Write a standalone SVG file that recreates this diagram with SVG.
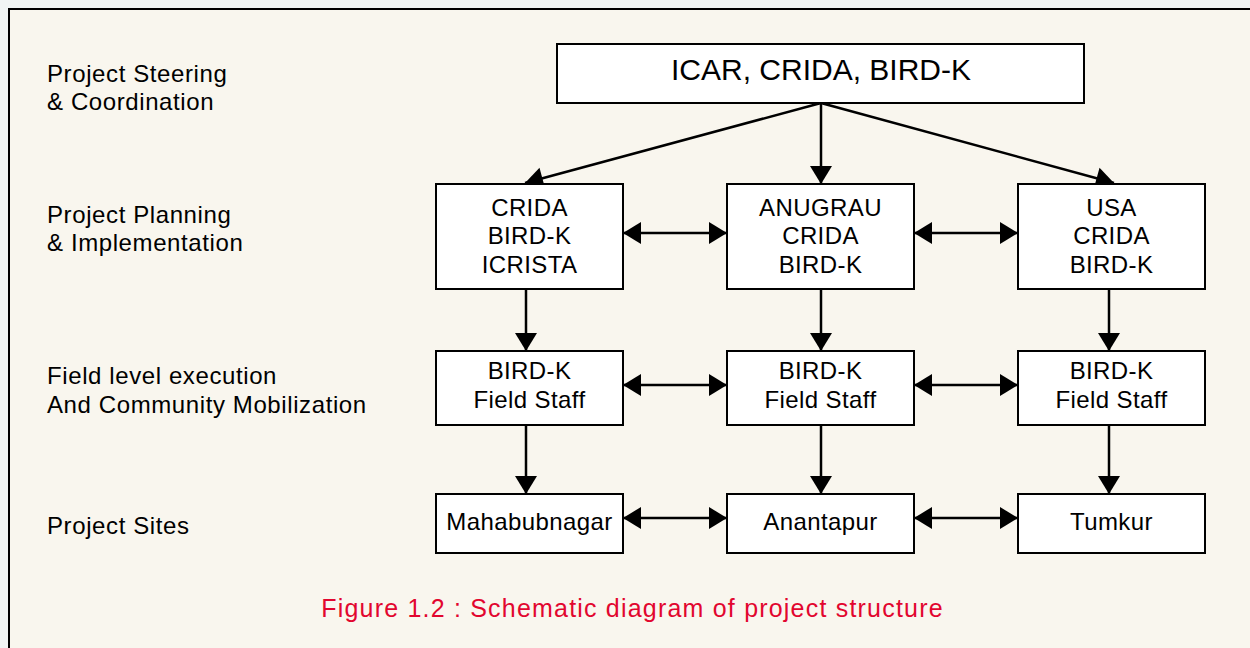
<svg xmlns="http://www.w3.org/2000/svg" width="1250" height="648" viewBox="0 0 1250 648">
<defs>
<style>
.lbl{font-family:"Liberation Sans",Arial,sans-serif;font-size:24px;letter-spacing:0.6px;fill:#000}
.bt{font-family:"Liberation Sans",Arial,sans-serif;font-size:24px;letter-spacing:0.4px;fill:#000;text-anchor:middle}
.box{fill:#fff;stroke:#000;stroke-width:2}
.con{stroke:#000;stroke-width:2.5;fill:none}
.cap{font-family:"Liberation Sans",Arial,sans-serif;font-size:25px;letter-spacing:1.2px;fill:#e2062f;text-anchor:middle}
</style>
<marker id="ah" markerUnits="userSpaceOnUse" markerWidth="20" markerHeight="24" viewBox="0 0 20 24" refX="19" refY="12" orient="auto-start-reverse">
<path d="M1,1 L19,12 L1,23 Z" fill="#000"/>
</marker>
</defs>
<rect x="0" y="0" width="1250" height="648" fill="#f1f5f4"/>
<rect x="9" y="9" width="1260" height="660" fill="#f9f6ee" stroke="#000" stroke-width="2"/>

<g id="labels">
<text class="lbl" x="47" y="82">Project Steering</text>
<text class="lbl" x="47" y="110">&amp; Coordination</text>
<text class="lbl" x="47" y="223">Project Planning</text>
<text class="lbl" x="47" y="251">&amp; Implementation</text>
<text class="lbl" x="47" y="384">Field level execution</text>
<text class="lbl" x="47" y="413">And Community Mobilization</text>
<text class="lbl" x="47" y="534">Project Sites</text>
</g>

<g id="connectors">
<line class="con" x1="821" y1="103" x2="525" y2="183" marker-end="url(#ah)"/>
<line class="con" x1="821" y1="103" x2="821" y2="184" marker-end="url(#ah)"/>
<line class="con" x1="821" y1="103" x2="1114" y2="183" marker-end="url(#ah)"/>
<line class="con" x1="623" y1="233" x2="727" y2="233" marker-start="url(#ah)" marker-end="url(#ah)"/>
<line class="con" x1="914" y1="233" x2="1018" y2="233" marker-start="url(#ah)" marker-end="url(#ah)"/>
<line class="con" x1="526" y1="289" x2="526" y2="351" marker-end="url(#ah)"/>
<line class="con" x1="821" y1="289" x2="821" y2="351" marker-end="url(#ah)"/>
<line class="con" x1="1109" y1="289" x2="1109" y2="351" marker-end="url(#ah)"/>
<line class="con" x1="623" y1="385" x2="727" y2="385" marker-start="url(#ah)" marker-end="url(#ah)"/>
<line class="con" x1="914" y1="385" x2="1018" y2="385" marker-start="url(#ah)" marker-end="url(#ah)"/>
<line class="con" x1="526" y1="425" x2="526" y2="494" marker-end="url(#ah)"/>
<line class="con" x1="821" y1="425" x2="821" y2="494" marker-end="url(#ah)"/>
<line class="con" x1="1109" y1="425" x2="1109" y2="494" marker-end="url(#ah)"/>
<line class="con" x1="623" y1="518" x2="727" y2="518" marker-start="url(#ah)" marker-end="url(#ah)"/>
<line class="con" x1="914" y1="518" x2="1018" y2="518" marker-start="url(#ah)" marker-end="url(#ah)"/>
</g>

<g id="top">
<rect class="box" x="557" y="44" width="527" height="59"/>
<text class="bt" x="821" y="80" style="font-size:30px;letter-spacing:0">ICAR, CRIDA, BIRD-K</text>
</g>

<g id="plan-left">
<rect class="box" x="436" y="184" width="187" height="105"/>
<text class="bt" x="529.5" y="216">CRIDA</text>
<text class="bt" x="529.5" y="244">BIRD-K</text>
<text class="bt" x="529.5" y="273">ICRISTA</text>
</g>
<g id="plan-mid">
<rect class="box" x="727" y="184" width="187" height="105"/>
<text class="bt" x="820.5" y="216">ANUGRAU</text>
<text class="bt" x="820.5" y="244">CRIDA</text>
<text class="bt" x="820.5" y="273">BIRD-K</text>
</g>
<g id="plan-right">
<rect class="box" x="1018" y="184" width="187" height="105"/>
<text class="bt" x="1111.5" y="216">USA</text>
<text class="bt" x="1111.5" y="244">CRIDA</text>
<text class="bt" x="1111.5" y="273">BIRD-K</text>
</g>

<g id="field-left">
<rect class="box" x="436" y="351" width="187" height="74"/>
<text class="bt" x="529.5" y="379">BIRD-K</text>
<text class="bt" x="529.5" y="408">Field Staff</text>
</g>
<g id="field-mid">
<rect class="box" x="727" y="351" width="187" height="74"/>
<text class="bt" x="820.5" y="379">BIRD-K</text>
<text class="bt" x="820.5" y="408">Field Staff</text>
</g>
<g id="field-right">
<rect class="box" x="1018" y="351" width="187" height="74"/>
<text class="bt" x="1111.5" y="379">BIRD-K</text>
<text class="bt" x="1111.5" y="408">Field Staff</text>
</g>

<g id="site-left">
<rect class="box" x="436" y="494" width="187" height="59"/>
<text class="bt" x="529.5" y="530">Mahabubnagar</text>
</g>
<g id="site-mid">
<rect class="box" x="727" y="494" width="187" height="59"/>
<text class="bt" x="820.5" y="530">Anantapur</text>
</g>
<g id="site-right">
<rect class="box" x="1018" y="494" width="187" height="59"/>
<text class="bt" x="1111.5" y="530">Tumkur</text>
</g>

<text class="cap" x="632.5" y="617">Figure 1.2 : Schematic diagram of project structure</text>
</svg>
